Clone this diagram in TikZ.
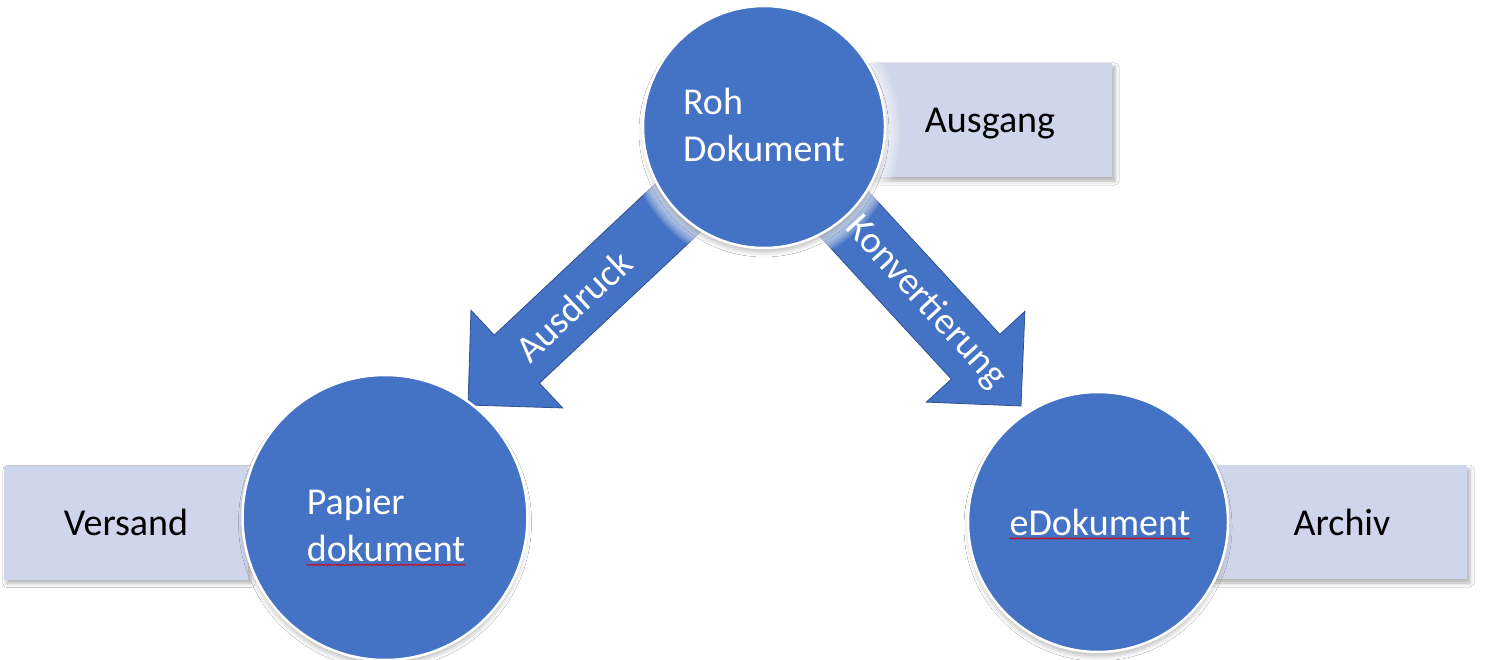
\documentclass[tikz,border=0pt]{standalone}
\usepackage{fontspec}
\setmainfont{Carlito}
\usetikzlibrary{calc,shadows.blur,decorations.pathmorphing}
\definecolor{accblue}{HTML}{4472C4}
\definecolor{arrowline}{HTML}{2F528F}
\definecolor{boxfill}{HTML}{CFD5EA}
\newcommand{\blockarrow}[2]{%
  \coordinate (#2-h) at ($(#2)!67pt!(#1)$);
  \draw[arrowbody] ($(#1)!33pt!90:(#2)$) -- ($(#2-h)!33pt!90:(#2)$) -- ($(#2-h)!67pt!90:(#2)$) -- (#2)
    -- ($(#2-h)!67pt!-90:(#2)$) -- ($(#2-h)!33pt!-90:(#2)$) -- ($(#1)!33pt!-90:(#2)$) -- cycle;}
\begin{document}
\begin{tikzpicture}[x=1pt,y=-1pt,
  bigfont/.style={font=\fontsize{38}{47}\selectfont, inner sep=0pt},
  docircle/.style={circle, fill=accblue, draw=white, line width=2.5pt, inner sep=0pt,
    blur shadow={shadow xshift=0pt, shadow yshift=-5pt, shadow blur radius=4pt, shadow opacity=22}},
  sidebox/.style={rectangle, fill=boxfill, inner sep=0pt, minimum height=114pt,
    blur shadow={shadow xshift=3pt, shadow yshift=-4pt, shadow blur radius=4pt, shadow opacity=30}},
  arrowbody/.style={fill=accblue, draw=arrowline, line width=0.8pt, line join=miter},
  halo/.style={fill=white, opacity=0.075, draw=none},
  squiggle/.style={draw=red!85!black, line width=0.7pt, decorate,
    decoration={snake, amplitude=0.8pt, segment length=3pt}}]
\useasboundingbox (0,0) rectangle (1502,660);
\fill[white] (0,0) rectangle (1502,660);

% centres
\coordinate (rohc) at (764,127);
\coordinate (papierc) at (385,517.5);
\coordinate (edokc) at (1098,522);

% side boxes
\node[sidebox, minimum width=244pt] (ausgangbox) at (990,120) {};
\node[sidebox, minimum width=244pt] (versandbox) at (126,522.5) {};
\node[sidebox, minimum width=255pt] (archivbox) at (1339.5,522) {};
\node[bigfont, anchor=base] (ausgang) at (990,133) {Ausgang};
\node[bigfont, anchor=base] (versand) at (126,535) {Versand};
\node[bigfont, anchor=base] (archiv) at (1342,535) {Archiv};

% arrows
\coordinate (tipA) at (468,405);
\coordinate (tipK) at (1021,406);
\blockarrow{rohc}{tipA}
\blockarrow{rohc}{tipK}

% soft halo below the top circle
\foreach \d in {1,...,16}{\fill[halo] ($(rohc)+(0,4)$) circle (121+\d);}

% circles
\node[docircle, minimum size=242pt] (roh) at (rohc) {};
\node[docircle, minimum size=285pt] (papier) at (papierc) {};
\node[docircle, minimum size=260pt] (edok) at (edokc) {};

\node[bigfont, text=white, align=left] (rohtxt) at (764,125) {Roh\\Dokument};
\node[bigfont, text=white, align=left] (papiertxt) at (386,525) {Papier\\dokument};
\node[bigfont, text=white, anchor=base] (edoktxt) at (1100,535) {eDokument};

\draw[squiggle] ($(papiertxt.south west)+(0,3)$) -- ($(papiertxt.south east)+(0,3)$);
\draw[squiggle] ($(edoktxt.south west)+(0,3)$) -- ($(edoktxt.south east)+(0,3)$);

% arrow labels
\path (rohc) -- (tipA) node[pos=0.643, sloped, bigfont, text=white] (ausdruck) {Ausdruck};
\path (rohc) -- (tipK) node[pos=0.628, sloped, bigfont, text=white] (konv) {Konvertierung};
\end{tikzpicture}
\end{document}
